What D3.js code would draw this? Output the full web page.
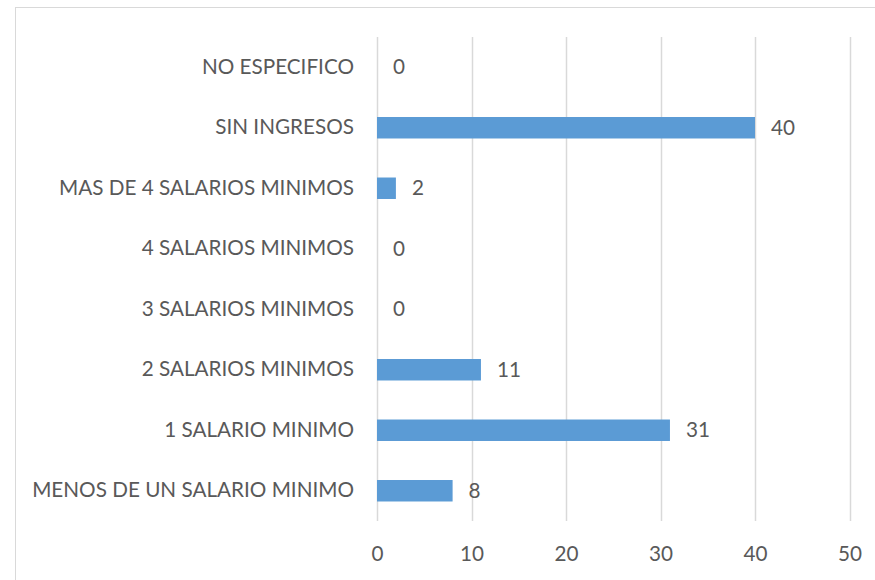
<!DOCTYPE html>
<html>
<head>
<meta charset="utf-8">
<script src="https://cdn.jsdelivr.net/npm/d3@7"></script>
<style>
  body { margin: 0; background: #fff; }
  text { font-family: Lato, "Open Sans", sans-serif; fill: #595959; }
</style>
</head>
<body>
<div id="chart"></div>
<script>
// categories from top to bottom, as in the picture
var categories = [
  "NO ESPECIFICO",
  "SIN INGRESOS",
  "MAS DE 4 SALARIOS MINIMOS",
  "4 SALARIOS MINIMOS",
  "3 SALARIOS MINIMOS",
  "2 SALARIOS MINIMOS",
  "1 SALARIO MINIMO",
  "MENOS DE UN SALARIO MINIMO"
];
var values = [0, 40, 2, 0, 0, 11, 31, 8];
var tickValues = [0, 10, 20, 30, 40, 50];

var width = 875,
  height = 580,
  fontSize = 20.7;

var svg = d3.select('#chart')
  .append('svg')
  .attr('width', width)
  .attr('height', height);

// chart frame
svg.append('rect')
  .attr('x', 15.5)
  .attr('y', 7.5)
  .attr('width', width)
  .attr('height', height)
  .style('fill', 'none')
  .style('stroke', '#d9d9d9');

var x = d3.scaleLinear()
  .domain([0, 50])
  .range([377, 849.5]);

var y = d3.scaleBand()
  .domain(categories)
  .range([37, 521])
  .paddingInner(0.645)
  .paddingOuter(0.3225);

var data = categories.map(function(c, i) { return { category: c, value: values[i] }; });

// gridlines
svg.append('g')
  .attr('class', 'grid')
  .selectAll('line')
  .data(tickValues)
  .enter()
  .append('line')
  .attr('x1', function(d) { return Math.round(x(d)) + 0.5; })
  .attr('x2', function(d) { return Math.round(x(d)) + 0.5; })
  .attr('y1', 37)
  .attr('y2', 521)
  .style('stroke', '#d9d9d9')
  .style('stroke-width', 1.5);

// x axis labels
var xAxis = d3.axisBottom(x)
  .tickValues(tickValues)
  .tickSize(0)
  .tickPadding(0);

var gx = svg.append('g')
  .attr('transform', 'translate(0,' + 546 + ')')
  .call(xAxis);
gx.select('.domain').remove();
gx.selectAll('text')
  .attr('dy', '0.71em')
  .style('font-size', fontSize + 'px')
  .style('font-family', null)
  .attr('fill', null);

// y axis labels
var yAxis = d3.axisLeft(y)
  .tickSize(0)
  .tickPadding(23);

var gy = svg.append('g')
  .attr('transform', 'translate(' + 377 + ',0)')
  .call(yAxis);
gy.select('.domain').remove();
gy.selectAll('text')
  .style('font-size', fontSize + 'px')
  .style('font-family', null)
  .attr('fill', null);

// bars
svg.append('g')
  .attr('class', 'bars')
  .selectAll('rect')
  .data(data)
  .enter()
  .append('rect')
  .attr('x', x(0))
  .attr('y', function(d) { return y(d.category); })
  .attr('width', function(d) { return x(d.value) - x(0); })
  .attr('height', y.bandwidth())
  .style('fill', '#5b9bd5');

// value labels
svg.append('g')
  .attr('class', 'labels')
  .selectAll('text')
  .data(data)
  .enter()
  .append('text')
  .attr('x', function(d) { return x(d.value) + 16; })
  .attr('y', function(d) { return y(d.category) + y.bandwidth() / 2; })
  .attr('dy', '0.35em')
  .style('font-size', fontSize + 'px')
  .text(function(d) { return d.value; });
</script>
</body>
</html>
